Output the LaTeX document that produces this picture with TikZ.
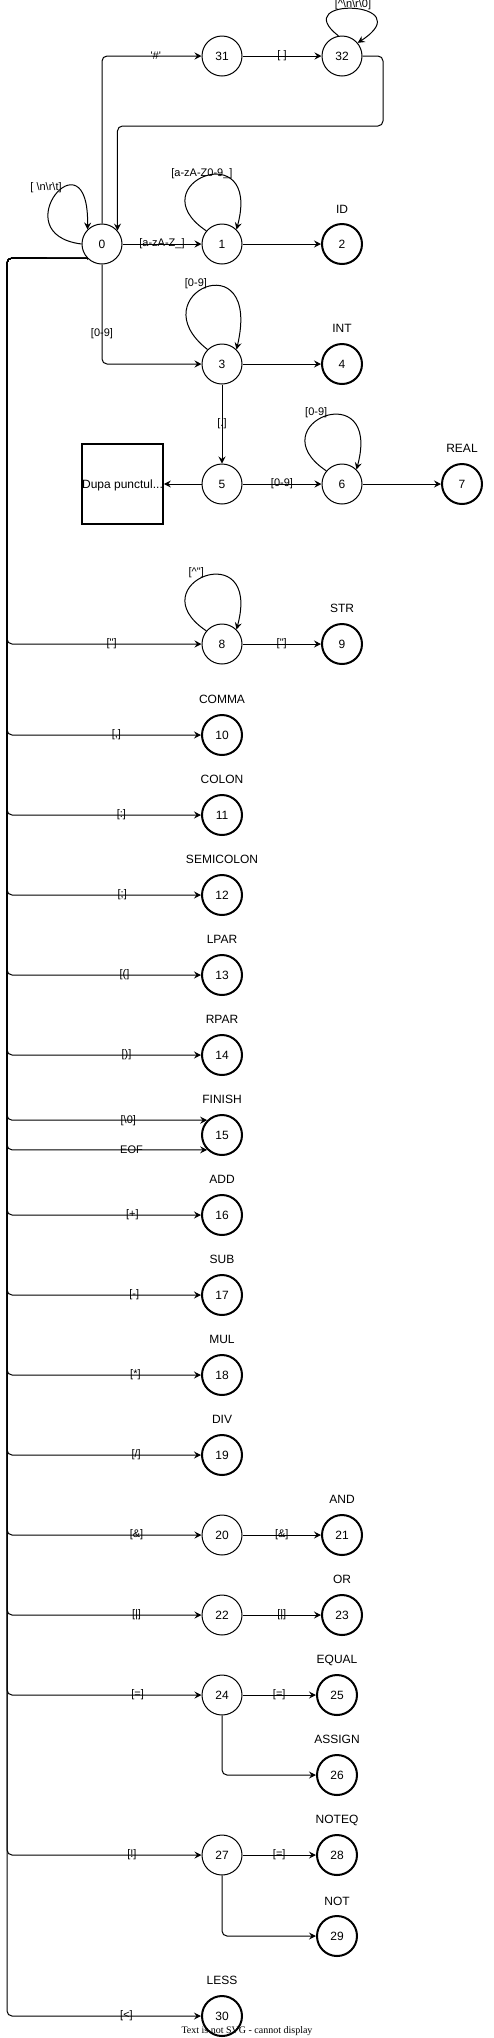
\documentclass[tikz,border=0pt]{standalone}
\usepackage{fontspec}
\setmainfont{Liberation Sans}
\newfontfamily\notefont{Liberation Serif}
\usetikzlibrary{arrows.meta}
\newcommand{\bsl}{\textbackslash}
\tikzset{
  st/.style={circle, draw, line width=1pt, minimum size=40pt, inner sep=0pt, font=\fontsize{12}{14}\selectfont},
  fin/.style={st, line width=2pt},
  tok/.style={inner sep=0pt, text height=8.6pt, text depth=0pt, font=\fontsize{12}{14}\selectfont},
  edge/.style={line width=1pt, rounded corners=5pt, -{Stealth[length=7pt,width=7pt,inset=2.5pt]}},
  lbl/.style={inner sep=0pt, font=\fontsize{11}{13}\selectfont}
}
\begin{document}
\begin{tikzpicture}[x=1pt, y=-1pt]
  \useasboundingbox (0,0) rectangle (494,2038);
  \node[st] (n0) at (102,244) {0};
  \node[st] (n31) at (222,56) {31};
  \node[st] (n32) at (342,56) {32};
  \node[st] (n1) at (222,244) {1};
  \node[fin] (n2) at (342,244) {2};
  \node[st] (n3) at (222,364) {3};
  \node[fin] (n4) at (342,364) {4};
  \node[st] (n5) at (222,484) {5};
  \node[st] (n6) at (342,484) {6};
  \node[fin] (n7) at (462,484) {7};
  \node[draw, line width=2pt, minimum size=80pt, tok] (dupa) at (122.5,484) {Dupa punctul...};
  \node[st] (n8) at (222,644) {8};
  \node[fin] (n9) at (342,644) {9};
  \foreach \k/\y in {10/735, 11/815, 12/895, 13/975, 14/1055, 15/1135, 16/1215, 17/1295, 18/1375, 19/1455, 30/2016}
    \node[fin] (n\k) at (222,\y) {\k};
  \node[st] (n20) at (222,1535) {20};
  \node[fin] (n21) at (342,1535) {21};
  \node[st] (n22) at (222,1615) {22};
  \node[fin] (n23) at (342,1615) {23};
  \node[st] (n24) at (222,1695) {24};
  \node[fin] (n25) at (337,1695) {25};
  \node[fin] (n26) at (337,1775) {26};
  \node[st] (n27) at (222,1855) {27};
  \node[fin] (n28) at (337,1855) {28};
  \node[fin] (n29) at (337,1936) {29};
  \foreach \k/\x/\y/\name in {2/342/209/ID, 4/342/328/INT, 7/462/448/REAL, 9/342/608/STR,
      10/222/699/COMMA, 11/222/779/COLON, 12/222/859/SEMICOLON, 13/222/939/LPAR,
      14/222/1019/RPAR, 15/222/1099/FINISH, 16/222/1179/ADD, 17/222/1259/SUB,
      18/222/1339/MUL, 19/222/1419/DIV, 21/342/1499/AND, 23/342/1579/OR,
      25/337/1659/EQUAL, 26/337/1739/ASSIGN, 28/337/1819/NOTEQ, 29/337/1901/NOT, 30/222/1980/LESS}
    \node[tok] (l\k) at (\x,\y) {\name};
  \node[font=\notefont\fontsize{10}{12}\selectfont, inner sep=0pt] (note) at (247,2031) {Text is not SVG - cannot display};

  \coordinate (trunk) at (7,258);
  \coordinate (back) at (383,126);

  \draw[edge] (n0.north) |- (n31) node[lbl, pos=0.77] {\textquotesingle\#\textquotesingle};
  \draw[edge] (n31) -- (n32) node[lbl, midway] {[ ]};
  \draw[edge] (n32.100) .. controls +(-52,-40) and +(65,-42) .. (n32.40) node[lbl, pos=0.5, yshift=4pt] {[\textasciicircum\bsl n\bsl r\bsl 0]};
  \draw[edge] (n32.east) -| (back) -| (n0.41);
  \draw[edge] (n0.west) .. controls +(-80,-10) and +(2,-101) .. (n0.135) node[lbl, pos=0.45, xshift=-6pt, yshift=12pt] {[\ \bsl n\bsl r\bsl t]};
  \draw[edge] (n0) -- (n1) node[lbl, midway] {[a-zA-Z\_]};
  \draw[edge] (n1.140) .. controls +(-70,-47) and +(26,-96) .. (n1.45) node[lbl, pos=0.5, yshift=3pt, xshift=-3pt] {[a-zA-Z0-9\_]};
  \draw[edge] (n1) -- (n2);
  \draw[edge] (n0.south) |- (n3) node[lbl, pos=0.345] {[0-9]};
  \draw[edge] (n3.135) .. controls +(-70,-55) and +(26,-110) .. (n3.45) node[lbl, pos=0.45, xshift=-4pt, yshift=7pt] {[0-9]};
  \draw[edge] (n3) -- (n4);
  \draw[edge] (n3) -- (n5) node[lbl, midway] {[.]};
  \draw[edge] (n5) -- (dupa);
  \draw[edge] (n5) -- (n6) node[lbl, midway] {[0-9]};
  \draw[edge] (n6.140) .. controls +(-70,-47) and +(26,-96) .. (n6.45) node[lbl, pos=0.45, xshift=-3pt, yshift=6pt] {[0-9]};
  \draw[edge] (n6) -- (n7);
  \draw[edge] (n8.140) .. controls +(-70,-47) and +(26,-96) .. (n8.45) node[lbl, pos=0.45, xshift=-3pt, yshift=6pt] {[\textasciicircum\textquotedbl]};
  \draw[edge] (n8) -- (n9) node[lbl, midway] {[\textquotedbl]};

  \foreach \k/\lab/\p in {8/{[\textquotedbl]}/0.769, 10/{[,]}/0.782, 11/{[:]}/0.795, 12/{[;]}/0.797,
      13/{[(]}/0.803, 14/{[)]}/0.808, 16/{[+]}/0.823, 17/{[-]}/0.828, 18/{[*]}/0.831,
      19/{[/]}/0.833, 20/{[\&]}/0.833, 22/{[|]}/0.833, 24/{[=]}/0.836, 27/{[!]}/0.821, 30/{[<]}/0.808}
    \draw[edge] (n0.south west) -- (trunk) |- (n\k) node[lbl, pos=\p] {\lab};
  \draw[edge] (n0.south west) -- (trunk) |- (n15.north west) node[lbl, pos=0.803] {[\bsl 0]};
  \draw[edge] (n0.south west) -- (trunk) |- (n15.south west) node[lbl, pos=0.811] {EOF};

  \draw[edge] (n20) -- (n21) node[lbl, midway] {[\&]};
  \draw[edge] (n22) -- (n23) node[lbl, midway] {[|]};
  \draw[edge] (n24) -- (n25) node[lbl, midway] {[=]};
  \draw[edge] (n24.south) |- (n26);
  \draw[edge] (n27) -- (n28) node[lbl, midway] {[=]};
  \draw[edge] (n27.south) |- (n29);
\end{tikzpicture}
\end{document}
